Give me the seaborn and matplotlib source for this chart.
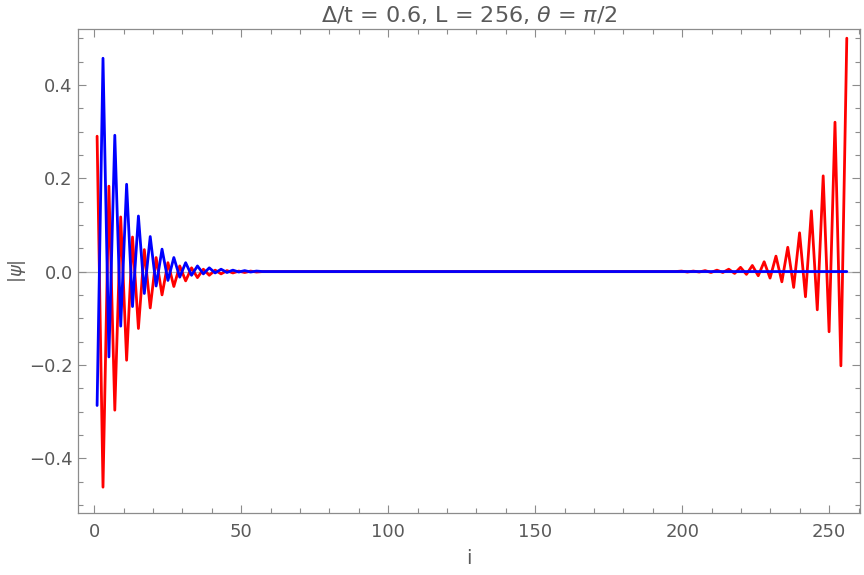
import numpy as np
import pandas as pd
import matplotlib
matplotlib.use('Agg')
import matplotlib.pyplot as plt
import seaborn as sns
from matplotlib.ticker import MultipleLocator

# wavefunction amplitudes, one value every second site (128 points)
red_psi = [
    0.290, -0.462, 0.183, -0.297, 0.117, -0.190, 0.074, -0.122, 0.047, -0.078,
    0.030, -0.050, 0.019, -0.032, 0.012, -0.020, 0.008, -0.013, 0.005, -0.008,
    0.003, -0.005, 0.002, -0.003, 0.001, -0.002, 0.001, -0.001, 0.0, 0.0,
    0.0, 0.0, 0.0, 0.0, 0.0, 0.0, 0.0, 0.0, 0.0, 0.0,
    0.0, 0.0, 0.0, 0.0, 0.0, 0.0, 0.0, 0.0, 0.0, 0.0,
    0.0, 0.0, 0.0, 0.0, 0.0, 0.0, 0.0, 0.0, 0.0, 0.0,
    0.0, 0.0, 0.0, 0.0, 0.0, 0.0, 0.0, 0.0, 0.0, 0.0,
    0.0, 0.0, 0.0, 0.0, 0.0, 0.0, 0.0, 0.0, 0.0, 0.0,
    0.0, 0.0, 0.0, 0.0, 0.0, 0.0, 0.0, 0.0, 0.0, 0.0,
    0.0, 0.0, 0.0, 0.0, 0.0, 0.0, 0.0, 0.0, 0.0, 0.001,
    -0.001, 0.001, -0.001, 0.002, -0.002, 0.003, -0.002, 0.005, -0.004, 0.009,
    -0.006, 0.013, -0.009, 0.021, -0.014, 0.033, -0.022, 0.052, -0.034, 0.083,
    -0.054, 0.130, -0.082, 0.205, -0.129, 0.320, -0.202, 0.500,
]
blue_psi = [
    -0.287, 0.457, -0.183, 0.292, -0.117, 0.187, -0.075, 0.119, -0.047, 0.075,
    -0.031, 0.048, -0.019, 0.030, -0.012, 0.019, -0.008, 0.012, -0.005, 0.008,
    -0.003, 0.005, -0.002, 0.003, -0.001, 0.002, -0.001, 0.001, 0.0, 0.0,
    0.0, 0.0, 0.0, 0.0, 0.0, 0.0, 0.0, 0.0, 0.0, 0.0,
    0.0, 0.0, 0.0, 0.0, 0.0, 0.0, 0.0, 0.0, 0.0, 0.0,
    0.0, 0.0, 0.0, 0.0, 0.0, 0.0, 0.0, 0.0, 0.0, 0.0,
    0.0, 0.0, 0.0, 0.0, 0.0, 0.0, 0.0, 0.0, 0.0, 0.0,
    0.0, 0.0, 0.0, 0.0, 0.0, 0.0, 0.0, 0.0, 0.0, 0.0,
    0.0, 0.0, 0.0, 0.0, 0.0, 0.0, 0.0, 0.0, 0.0, 0.0,
    0.0, 0.0, 0.0, 0.0, 0.0, 0.0, 0.0, 0.0, 0.0, 0.0,
    0.0, 0.0, 0.0, 0.0, 0.0, 0.0, 0.0, 0.0, 0.0, 0.0,
    0.0, 0.0, 0.0, 0.0, 0.0, 0.0, 0.0, 0.0, 0.0, 0.0,
    0.0, 0.0, 0.0, 0.0, 0.0, 0.0, 0.0, 0.0,
]
sites = np.linspace(1, 256, len(red_psi))

x_ticks = [0, 50, 100, 150, 200, 250]
y_ticks = [-0.4, -0.2, 0.0, 0.2, 0.4]

df = pd.DataFrame({"i": sites, "red": red_psi, "blue": blue_psi})

sns.set_style("ticks")
plt.rcParams['font.family'] = ['DejaVu Sans']

FRAME = '#8c8c8c'
TEXT = '#5a5a5a'

fig = plt.figure(figsize=(8.64, 5.75), dpi=100)
ax = fig.add_axes([0.0906, 0.1073, 0.9048, 0.8417])

ax.axhline(0, color='#b4b4b4', lw=0.9, zorder=0)
sns.lineplot(data=df, x="i", y="red", color='#ff0000', lw=2.0,
             estimator=None, sort=False, ax=ax)
sns.lineplot(data=df, x="i", y="blue", color='#0000ff', lw=2.0,
             estimator=None, sort=False, ax=ax)

ax.set_xlim(-5.4, 260.5)
ax.set_ylim(-0.518, 0.519)
ax.set_xticks(x_ticks)
ax.set_yticks(y_ticks)
ax.set_yticklabels([f"{v:.1f}".replace('-', '\u2212') for v in y_ticks])
ax.xaxis.set_minor_locator(MultipleLocator(10))
ax.yaxis.set_minor_locator(MultipleLocator(0.05))

ax.tick_params(which='both', direction='in', top=True, right=True,
               color=FRAME, labelcolor=TEXT, labelsize=13, width=0.8)
ax.tick_params(which='major', length=6)
ax.tick_params(which='minor', length=3.5)
ax.tick_params(axis='x', pad=7)
ax.tick_params(axis='y', pad=4)
for s in ax.spines.values():
    s.set_color(FRAME)
    s.set_linewidth(0.9)

ax.set_xlabel("i", fontsize=14, color=TEXT, labelpad=6)
ax.set_ylabel(r"$|\psi|$", fontsize=13, color=TEXT, labelpad=1)
ax.set_title(r"$\Delta$/t = 0.6, L = 256, $\theta$ = $\pi$/2", fontsize=16,
             color=TEXT, pad=5)

plt.savefig("out.png", dpi=100)
plt.close()
